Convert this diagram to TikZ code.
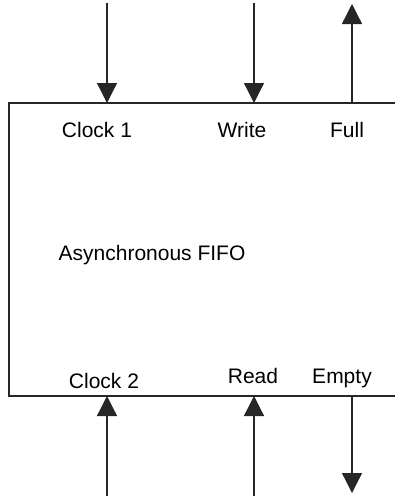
\documentclass[tikz,border=0pt]{standalone}
\usepackage{fontspec}
\setmainfont{Liberation Sans}
\usetikzlibrary{arrows.meta}
\begin{document}
\begin{tikzpicture}[x=1pt,y=-1pt,
  line width=1.3pt,
  lbl/.style={font=\fontsize{21}{25}\selectfont, anchor=base, inner sep=0pt},
  sig/.style={draw=black!85, -{Triangle[width=20pt,length=20pt]}}]
\useasboundingbox (0,0) rectangle (395,498);
% open box (right side runs off the picture)
\coordinate (tr) at (396,103);
\coordinate (tl) at (9,103);
\coordinate (bl) at (9,396);
\coordinate (br) at (396,396);
\draw[black!85] (tr) -- (tl) -- (bl) -- (br);
% labels
\node[lbl] (clk1) at (97,137) {Clock 1};
\node[lbl] (wr) at (242,137) {Write};
\node[lbl] (full) at (347,137) {Full};
\node[lbl, anchor=base west] (fifo) at (58,260) {Asynchronous FIFO};
\node[lbl] (clk2) at (104,388) {Clock 2};
\node[lbl] (rd) at (253,383) {Read};
\node[lbl] (emp) at (342,383) {Empty};
% signal end points
\coordinate (c1o) at (107,3);   \coordinate (c1i) at (107,103);
\coordinate (wo) at (254,3);    \coordinate (wi) at (254,103);
\coordinate (fo) at (352,4);    \coordinate (fi) at (352,103);
\coordinate (c2o) at (107,496); \coordinate (c2i) at (107,396);
\coordinate (ro) at (254,496);  \coordinate (ri) at (254,396);
\coordinate (eo) at (352,493);  \coordinate (ei) at (352,396);
% connectors
\draw[sig] (c1o) -- (c1i);
\draw[sig] (wo) -- (wi);
\draw[sig] (fi) -- (fo);
\draw[sig] (c2o) -- (c2i);
\draw[sig] (ro) -- (ri);
\draw[sig] (ei) -- (eo);
\end{tikzpicture}
\end{document}
